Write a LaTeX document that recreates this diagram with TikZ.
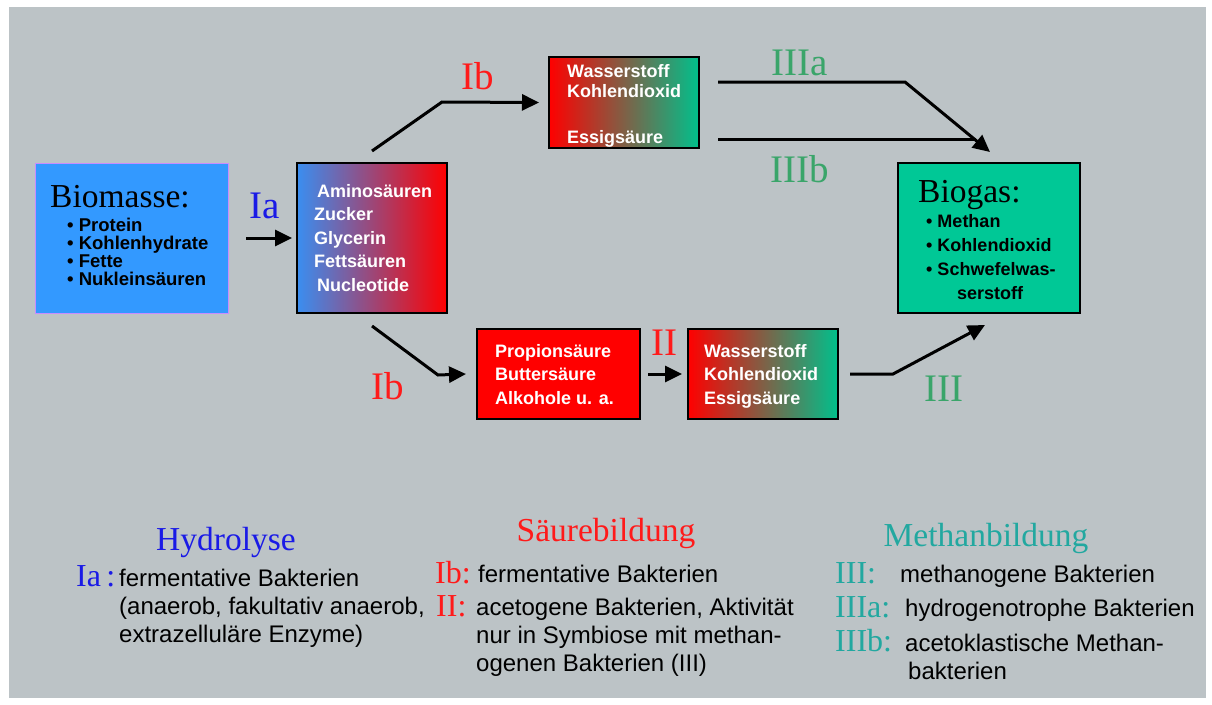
\documentclass[tikz,border=0pt]{standalone}
\usepackage{fontspec}
\setmainfont{Liberation Serif}
\setsansfont{Liberation Sans}
\usetikzlibrary{arrows.meta}
\definecolor{bggray}{RGB}{188,195,198}
\definecolor{biomblue}{RGB}{51,153,255}
\definecolor{shadeblue}{RGB}{58,142,240}
\definecolor{shadegreen}{RGB}{0,192,140}
\definecolor{gasgreen}{RGB}{0,200,150}
\definecolor{lblblue}{RGB}{26,26,230}
\definecolor{lblred}{RGB}{255,26,26}
\definecolor{lblgreen}{RGB}{58,165,106}
\definecolor{lblteal}{RGB}{34,168,160}
\begin{document}
\begin{tikzpicture}[x=1pt,y=1pt,yscale=-1,
  box/.style={draw=black,line width=1.2pt,outer sep=0pt,inner sep=0pt},
  boxtxt/.style={anchor=north west,inner sep=0pt,align=left,font=\sffamily\bfseries\fontsize{18}{23.5}\selectfont},
  stage/.style={inner sep=0pt,font=\fontsize{39}{40}\selectfont},
  arr/.style={line width=3pt,-{Triangle[length=17pt,width=16pt]}},
  legtxt/.style={anchor=north west,inner sep=0pt,align=left,font=\sffamily\fontsize{24}{28}\selectfont},
  legkey/.style={anchor=north west,inner sep=0pt,font=\fontsize{32}{34}\selectfont},
  legtitle/.style={inner sep=0pt,font=\fontsize{33.5}{34}\selectfont}]
\useasboundingbox (0,0) rectangle (1212,704);
%background
\fill [white] (0,0) rectangle (1212,704);
\fill [bggray] (9,7) rectangle (1206,698);

%Shape: Rectangle [id:biomasse]
\node [box,draw={rgb,255:red,200;green,140;blue,255},line width=0.8pt,fill=biomblue,minimum width=193,minimum height=150] (bio) at (131.5,238) {};
\node [anchor=north west,inner sep=0pt,font=\fontsize{33.5}{34}\selectfont] (biotitle) at (50,185) {Biomasse:};
\node [boxtxt,text=black,font=\sffamily\bfseries\fontsize{18.5}{18}\selectfont] (biolist) at (67,218) {\textbullet\ Protein\\\textbullet\ Kohlenhydrate\\\textbullet\ Fette\\\textbullet\ Nukleinsäuren};

%Shape: Rectangle [id:amino]
\node [box,left color=shadeblue,right color=red,minimum width=150,minimum height=150] (amino) at (372,238) {};
\node [boxtxt,text=white] (aminotxt) at (314,184) {\,Aminosäuren\\Zucker\\Glycerin\\Fettsäuren\\\,Nucleotide};

%Shape: Rectangle [id:wasser oben]
\node [box,left color=red,right color=shadegreen,minimum width=150,minimum height=91] (wtop) at (624,102.5) {};
\node [boxtxt,text=white,font=\sffamily\bfseries\fontsize{18}{20}\selectfont] (wtoptxt) at (567,64) {Wasserstoff\\Kohlendioxid\\[26pt]Essigsäure};

%Shape: Rectangle [id:propion]
\node [box,fill=red,minimum width=163,minimum height=90] (prop) at (558.5,374) {};
\node [boxtxt,text=white] (proptxt) at (495,344) {Propionsäure\\Buttersäure\\Alkohole u. a.};

%Shape: Rectangle [id:wasser unten]
\node [box,left color=red,right color=shadegreen,minimum width=150,minimum height=90] (wbot) at (763,374) {};
\node [boxtxt,text=white] (wbottxt) at (704,344) {Wasserstoff\\Kohlendioxid\\Essigsäure};

%Shape: Rectangle [id:biogas]
\node [box,fill=gasgreen,minimum width=182,minimum height=150] (gas) at (989,238) {};
\node [anchor=north west,inner sep=0pt,font=\fontsize{33.5}{34}\selectfont] (gastitle) at (918,180) {Biogas:};
\node [boxtxt,text=black,font=\sffamily\bfseries\fontsize{18}{24}\selectfont] (gaslist) at (926,214) {\textbullet\ Methan\\\textbullet\ Kohlendioxid\\\textbullet\ Schwefelwas-\\\hspace{31pt}serstoff};

%Arrows
\draw [arr] ([xshift=18]bio.east) -- ([xshift=-5]amino.west);
\draw [arr] ([yshift=-12]amino.north) -- (442,102) -- ([xshift=-10]wtop.west);
\draw [arr] ([yshift=13]amino.south) -- (438,375) -- ([xshift=-11]prop.west);
\draw [arr] ([xshift=8]prop.east) -- ([xshift=-6]wbot.west);
\draw [arr] ([xshift=12]wbot.east) -- (893,374) -- ([xshift=-4,yshift=12]gas.south);
\draw [arr] ([xshift=19,yshift=25]wtop.north east) -- (905,82) -- ([xshift=1,yshift=-11]gas.north);
\draw [line width=3pt] ([xshift=19,yshift=-9]wtop.south east) -- (976,139);

%Stage labels
\node [stage,text=lblblue] (la) at (265,206) {Ia};
\node [stage,text=lblred] (lbup) at (478,76) {Ib};
\node [stage,text=lblred] (lbdn) at (388,386) {Ib};
\node [stage,text=lblred] (lii) at (664,343) {II};
\node [stage,text=lblgreen] (liiia) at (800,63) {IIIa};
\node [stage,text=lblgreen] (liiib) at (800,169) {IIIb};
\node [stage,text=lblgreen] (liii) at (944,389) {III};

%Legend: Hydrolyse
\node [legtitle,text=lblblue] (hydro) at (226,542) {Hydrolyse};
\node [legkey,text=lblblue] (kia) at (76,565) {Ia\,:};
\node [legtxt] (tia) at (119,569) {fermentative Bakterien\\(anaerob, fakultativ anaerob,\\extrazelluläre Enzyme)};

%Legend: Saeurebildung
\node [legtitle,text=lblred] (saeure) at (606,533) {Säurebildung};
\node [legkey,text=lblred] (kib) at (435,561) {Ib:};
\node [legkey,text=lblred] (kii) at (436,595) {II:};
\node [legtxt] (tib) at (478,565) {fermentative Bakterien};
\node [legtxt] (tii) at (476,598) {acetogene Bakterien, Aktivität\\nur in Symbiose mit methan-\\ogenen Bakterien (III)};

%Legend: Methanbildung
\node [legtitle,text=lblteal] (methan) at (986,538) {Methanbildung};
\node [legkey,text=lblteal] (kiii) at (835,562) {III:};
\node [legkey,text=lblteal] (kiiia) at (835,596) {IIIa:};
\node [legkey,text=lblteal] (kiiib) at (835,629) {IIIb:};
\node [legtxt] (tiii) at (900,565) {methanogene Bakterien};
\node [legtxt] (tiiia) at (905,599) {hydrogenotrophe Bakterien};
\node [legtxt] (tiiib) at (905,634) {acetoklastische Methan-\\\hspace{3pt}bakterien};
\end{tikzpicture}
\end{document}
